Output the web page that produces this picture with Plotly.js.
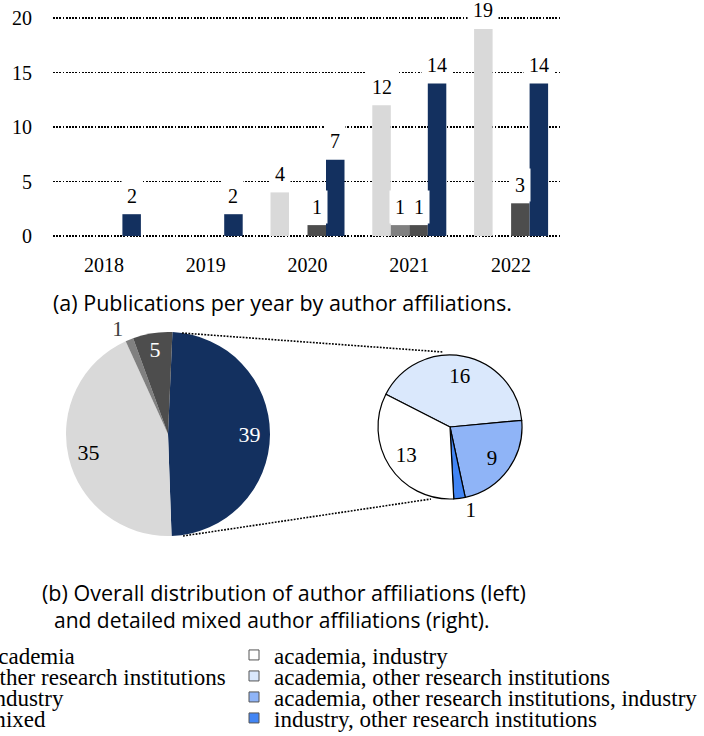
<!DOCTYPE html>
<html><head><meta charset="utf-8">
<script src="https://cdn.plot.ly/plotly-3.0.1.min.js"></script>
<style>html,body{margin:0;padding:0;background:#fff}#chart{width:704px;height:736px}</style>
</head><body><div id="chart"></div>
<script>
// ---------- data ----------
const years = ['2018', '2019', '2020', '2021', '2022'];
const seriesNames = ['academia', 'other research institutions', 'industry', 'mixed'];
const academia = [0, 0, 4, 12, 19];
const otherResearch = [0, 0, 0, 1, 0];
const industry = [0, 0, 1, 1, 3];
const mixed = [2, 2, 7, 14, 14];
const yTicks = [0, 5, 10, 15, 20];

const overallLabels = ['mixed', 'academia', 'other research institutions', 'industry'];
const overallValues = [39, 35, 1, 5];

const mixedLabels = ['academia, other research institutions', 'academia, other research institutions, industry', 'industry, other research institutions', 'academia, industry'];
const mixedValues = [16, 9, 1, 13];
const mixedLegendOrder = ['academia, industry', 'academia, other research institutions', 'academia, other research institutions, industry', 'industry, other research institutions'];

const captionA = '(a) Publications per year by author affiliations.';
const captionB1 = '(b) Overall distribution of author affiliations (left)';
const captionB2 = 'and detailed mixed author affiliations (right).';

// ---------- styles ----------
const W = 704, H = 736;
const SERIF = 'Liberation Serif, DejaVu Serif, serif';
const SANS = 'Open Sans, Noto Sans, sans-serif';
const barColors = {'academia': '#d9d9d9', 'other research institutions': '#808080', 'industry': '#4d4d4d', 'mixed': '#13305f'};
const mixedColors = {'academia, industry': '#ffffff', 'academia, other research institutions': '#dae8fc', 'academia, other research institutions, industry': '#8fb4f7', 'industry, other research institutions': '#4285f4'};
const px2x = p => p / W;
const px2y = p => 1 - p / H;

// bar plot geometry (pixels)
const plotL = 53, plotR = 562, y0px = 236, yTopPx = 18, yTopVal = 20, yPad = 0.1;
const unitPx = (y0px - yTopPx) / yTopVal;
const bargap = 0.273;
const barW = (1 - bargap) / 4;

const traces = [];
const barSeries = [academia, otherResearch, industry, mixed];
barSeries.forEach((vals, i) => {
  traces.push({
    type: 'bar', x: years, y: vals, name: seriesNames[i],
    marker: {color: barColors[seriesNames[i]]},
    legend: i === 0 ? 'legend' : 'legend' + (i + 1),
    hoverinfo: 'skip', cliponaxis: false
  });
});

// pies: a filled pie plus a transparent ring-shaped copy that carries the value labels
const leftC = {x: 168, y: 434, r: 102};
const rightC = {x: 450, y: 427, r: 72};
const domOf = c => ({x: [px2x(c.x - c.r), px2x(c.x + c.r)], y: [px2y(c.y + c.r), px2y(c.y - c.r)]});
const leftBase = {
  type: 'pie', labels: overallLabels, values: overallValues, sort: false,
  direction: 'clockwise', rotation: 2.5, domain: domOf(leftC),
  showlegend: false, hoverinfo: 'skip'
};
traces.push(Object.assign({}, leftBase, {
  marker: {colors: overallLabels.map(l => barColors[l]), line: {width: 0}},
  textinfo: 'none'
}));
traces.push(Object.assign({}, leftBase, {
  hole: 0.6,
  marker: {colors: overallLabels.map(() => 'rgba(0,0,0,0)'), line: {width: 0}},
  textinfo: 'value', textposition: ['inside', 'inside', 'outside', 'inside'],
  insidetextorientation: 'horizontal',
  textfont: {family: SERIF, size: 22, color: ['#ffffff', '#000000', '#404040', '#ffffff']}
}));
const rightBase = {
  type: 'pie', labels: mixedLabels, values: mixedValues, sort: false,
  direction: 'clockwise', rotation: -63, domain: domOf(rightC),
  showlegend: false, hoverinfo: 'skip'
};
traces.push(Object.assign({}, rightBase, {
  marker: {colors: mixedLabels.map(l => mixedColors[l]), line: {width: 1.2, color: '#000'}},
  textinfo: 'none'
}));
traces.push(Object.assign({}, rightBase, {
  hole: 0.45,
  marker: {colors: mixedLabels.map(() => 'rgba(0,0,0,0)'), line: {width: 0}},
  textinfo: 'value', textposition: ['inside', 'inside', 'outside', 'inside'],
  insidetextorientation: 'horizontal',
  textfont: {family: SERIF, size: 21, color: '#000'}
}));
// legend entries for the detailed pie
mixedLegendOrder.forEach((name, j) => {
  traces.push({
    type: 'scatter', x: [null], y: [null], mode: 'markers', name: name,
    marker: {symbol: 'square', size: 10, color: mixedColors[name], line: {color: '#555', width: 1}},
    legend: 'legend' + (5 + j), hoverinfo: 'skip'
  });
});

// legends
const legendRowsPx = [655, 676, 697, 718];
const legFont = {family: SERIF, size: 23, color: '#000'};
const layoutLegends = {};
for (let i = 0; i < 4; i++) {
  layoutLegends[i === 0 ? 'legend' : 'legend' + (i + 1)] = {
    x: px2x(-52), xanchor: 'left', y: px2y(legendRowsPx[i]), yanchor: 'middle',
    bgcolor: 'rgba(0,0,0,0)', font: legFont, borderwidth: 0
  };
  layoutLegends['legend' + (5 + i)] = {
    x: px2x(234), xanchor: 'left', y: px2y(legendRowsPx[i]), yanchor: 'middle',
    bgcolor: 'rgba(0,0,0,0)', font: legFont, borderwidth: 0
  };
}

// annotations: data labels above bars
const annotations = [];
barSeries.forEach((vals, i) => {
  vals.forEach((v, k) => {
    if (v === 0) return;
    annotations.push({
      xref: 'x', yref: 'y', x: k + (i - 1.5) * barW, y: v,
      text: String(v), showarrow: false, yanchor: 'bottom', xanchor: 'center',
      yshift: 1.5, bgcolor: '#ffffff', borderpad: 5,
      font: {family: SERIF, size: 20, color: '#000'}
    });
  });
});
const capFont = {family: SANS, size: 21.5, color: '#000'};
annotations.push({xref: 'paper', yref: 'paper', x: px2x(282), y: px2y(302), xanchor: 'center', yanchor: 'middle', showarrow: false, text: captionA, font: capFont});
annotations.push({xref: 'paper', yref: 'paper', x: px2x(40), y: px2y(592), xanchor: 'left', yanchor: 'middle', showarrow: false, text: captionB1, font: capFont});
annotations.push({xref: 'paper', yref: 'paper', x: px2x(52), y: px2y(620), xanchor: 'left', yanchor: 'middle', showarrow: false, text: captionB2, font: Object.assign({}, capFont, {size: 21})});

// connector lines between the pies
const dotLine = {color: '#000', width: 1.6, dash: '1.8px,1.4px'};
const shapes = [
  {type: 'line', xref: 'paper', yref: 'paper', x0: px2x(182), y0: px2y(333), x1: px2x(443), y1: px2y(352), line: dotLine},
  {type: 'line', xref: 'paper', yref: 'paper', x0: px2x(183), y0: px2y(536), x1: px2x(431), y1: px2y(499), line: dotLine}
];

const layout = Object.assign({
  width: W, height: H,
  margin: {l: 0, r: 0, t: 0, b: 0, autoexpand: false},
  paper_bgcolor: '#fff', plot_bgcolor: '#fff',
  barmode: 'group', bargap: bargap, bargroupgap: 0,
  showlegend: true,
  xaxis: {
    type: 'category', domain: [px2x(plotL), px2x(plotR)], range: [-0.5, 4.5],
    showgrid: false, zeroline: false, showline: false, ticks: '',
    tickfont: {family: SERIF, size: 20, color: '#000'}, ticklabelstandoff: 14, automargin: false,
    fixedrange: true
  },
  yaxis: {
    domain: [px2y(y0px + yPad * unitPx), px2y(yTopPx - yPad * unitPx)],
    range: [-yPad, yTopVal + yPad], tickvals: yTicks, ticktext: yTicks.map(String),
    showgrid: true, gridcolor: '#000', gridwidth: 1.7, griddash: '1.8px,1.4px',
    zeroline: false, showline: false, ticks: '',
    tickfont: {family: SERIF, size: 20, color: '#000'}, ticklabelstandoff: 20, automargin: false,
    fixedrange: true
  },
  annotations: annotations,
  shapes: shapes
}, layoutLegends);

Plotly.newPlot('chart', traces, layout, {staticPlot: true, displayModeBar: false});
</script>
</body></html>
